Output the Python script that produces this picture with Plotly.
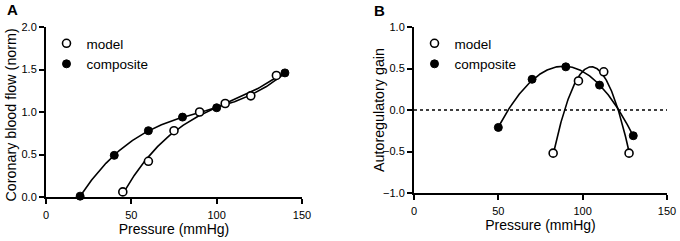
import numpy as np
import plotly.graph_objects as go

# ---- Data ----
# Panel A: coronary blood flow (norm) vs pressure (mmHg)
a_model_x = [45, 60, 75, 90, 105, 120, 135]
a_model_y = [0.06, 0.42, 0.78, 1.00, 1.10, 1.19, 1.43]
a_comp_x = [20, 40, 60, 80, 100, 140]
a_comp_y = [0.01, 0.49, 0.78, 0.94, 1.05, 1.46]

# Panel B: autoregulatory gain vs pressure (mmHg)
b_model_x = [82.5, 97.5, 112.5, 127.5]
b_model_y = [-0.52, 0.35, 0.46, -0.52]
b_comp_x = [50, 70, 90, 110, 130]
b_comp_y = [-0.21, 0.37, 0.52, 0.30, -0.31]

x_ticks = [0, 50, 100, 150]
a_y_ticks = [0.0, 0.5, 1.0, 1.5, 2.0]
b_y_ticks = [-1.0, -0.5, 0.0, 0.5, 1.0]

FONT = "Liberation Sans, Arial, sans-serif"
W, H = 680, 241


def fit_curve(xs, ys, deg):
    xs = np.asarray(xs, float)
    p = np.polyfit(xs, np.asarray(ys, float), deg)
    xx = np.linspace(xs.min(), xs.max(), 200)
    return xx, np.polyval(p, xx)


fig = go.Figure()

curve_style = dict(color="black", width=1.6)
open_marker = dict(symbol="circle", size=8, color="white", line=dict(color="black", width=1.6))
fill_marker = dict(symbol="circle", size=8, color="black", line=dict(color="black", width=1))

# Panel A curves
for xs, ys in [(a_model_x, a_model_y), (a_comp_x, a_comp_y)]:
    cx, cy = fit_curve(xs, ys, 3)
    fig.add_trace(go.Scatter(x=cx, y=cy, mode="lines", line=curve_style,
                             showlegend=False, hoverinfo="skip", xaxis="x", yaxis="y"))
fig.add_trace(go.Scatter(x=a_model_x, y=a_model_y, mode="markers", marker=open_marker,
                         name="model", legend="legend", cliponaxis=False, xaxis="x", yaxis="y"))
fig.add_trace(go.Scatter(x=a_comp_x, y=a_comp_y, mode="markers", marker=fill_marker,
                         name="composite", legend="legend", cliponaxis=False, xaxis="x", yaxis="y"))

# Panel B curves
for xs, ys in [(b_model_x, b_model_y), (b_comp_x, b_comp_y)]:
    cx, cy = fit_curve(xs, ys, 2)
    fig.add_trace(go.Scatter(x=cx, y=cy, mode="lines", line=curve_style,
                             showlegend=False, hoverinfo="skip", xaxis="x2", yaxis="y2"))
fig.add_trace(go.Scatter(x=b_model_x, y=b_model_y, mode="markers", marker=open_marker,
                         name="model", legend="legend2", cliponaxis=False, xaxis="x2", yaxis="y2"))
fig.add_trace(go.Scatter(x=b_comp_x, y=b_comp_y, mode="markers", marker=fill_marker,
                         name="composite", legend="legend2", cliponaxis=False, xaxis="x2", yaxis="y2"))

# dotted zero line in panel B
fig.add_shape(type="line", xref="x2 domain", yref="y2", x0=0, x1=1, y0=0, y1=0,
              line=dict(color="black", width=1.6, dash="dot"))

TICKFONT = dict(family=FONT, size=11, color="black")
TITLEFONT = dict(family=FONT, size=14, color="black")
YTITLEFONT = dict(family=FONT, size=14.3, color="black")
LEGFONT = dict(family=FONT, size=13.5, color="black")

axis_common = dict(showgrid=False, zeroline=False, showline=True, linecolor="black",
                   linewidth=2, ticks="outside", ticklen=5, tickwidth=2, tickcolor="black",
                   tickfont=TICKFONT, automargin=False)

fig.update_layout(
    template="none",
    width=W, height=H,
    margin=dict(l=0, r=0, t=0, b=0, autoexpand=False),
    paper_bgcolor="white", plot_bgcolor="white",
    font=dict(family=FONT, color="black"),
    xaxis=dict(domain=[46 / W, 302 / W], range=[0, 150], tickvals=x_ticks, anchor="y",
               ticklabelstandoff=2,
               title=dict(text="Pressure (mmHg)", standoff=1, font=TITLEFONT), **axis_common),
    yaxis=dict(domain=[1 - 197 / H, 1 - 27 / H], range=[0, 2], tickvals=a_y_ticks,
               tickformat=".1f", anchor="x", **axis_common),
    xaxis2=dict(domain=[414 / W, 667 / W], range=[0, 150], tickvals=x_ticks, anchor="y2",
                ticklabelstandoff=2,
                title=dict(text="Pressure (mmHg)", standoff=1, font=TITLEFONT), **axis_common),
    yaxis2=dict(domain=[1 - 193 / H, 1 - 27 / H], range=[-1, 1], tickvals=b_y_ticks,
                tickformat=".1f", anchor="x2", **axis_common),
    legend=dict(x=46.5 / W, y=1 - 28 / H, xanchor="left", yanchor="top",
                bgcolor="rgba(0,0,0,0)", font=LEGFONT),
    legend2=dict(x=414.5 / W, y=1 - 28 / H, xanchor="left", yanchor="top",
                 bgcolor="rgba(0,0,0,0)", font=LEGFONT),
    annotations=[
        dict(text="<b>A</b>", x=12 / W, y=1 - 10 / H, xref="paper", yref="paper",
             showarrow=False, xanchor="center", yanchor="middle",
             font=dict(family=FONT, size=15, color="black")),
        dict(text="<b>B</b>", x=379 / W, y=1 - 10.5 / H, xref="paper", yref="paper",
             showarrow=False, xanchor="center", yanchor="middle",
             font=dict(family=FONT, size=15, color="black")),
        dict(text="Coronary blood flow (norm)", textangle=-90, x=10.5 / W, y=1 - 115 / H,
             xref="paper", yref="paper", showarrow=False, xanchor="center",
             yanchor="middle", font=YTITLEFONT),
        dict(text="Autoregulatory gain", textangle=-90, x=379 / W, y=1 - 110 / H,
             xref="paper", yref="paper", showarrow=False, xanchor="center",
             yanchor="middle", font=YTITLEFONT),
    ],
)

# remove the default 8px page margin so the figure sits at the window's top-left corner
fig.write_html("out.html",
               config=dict(displayModeBar=False),
               post_script="document.body.style.margin='0';document.body.style.overflow='hidden';")
